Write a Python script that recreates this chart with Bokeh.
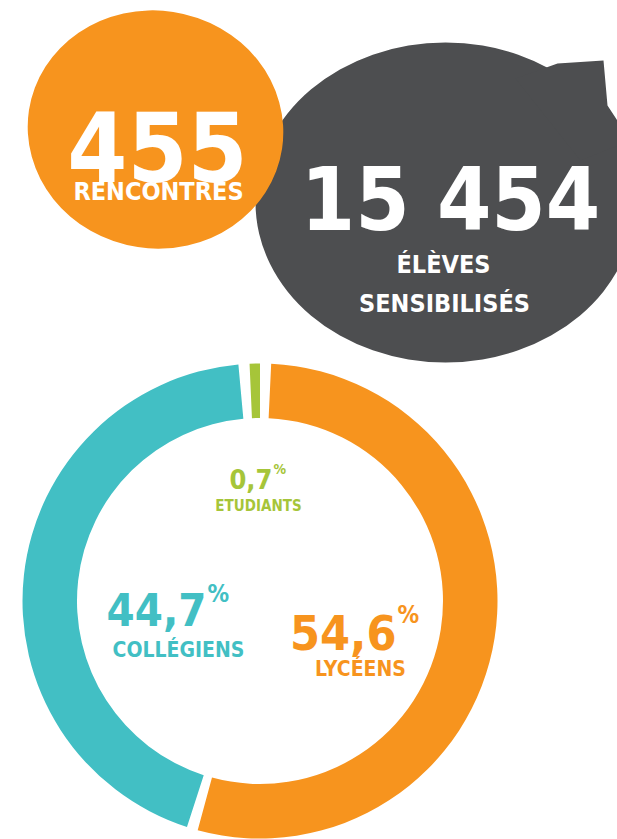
import math
from bokeh.plotting import figure
from bokeh.models import Range1d
from bokeh.core.properties import value
from bokeh.embed import file_html
from bokeh.resources import INLINE

# ---------------- data ----------------
rencontres = 455
eleves = 15454
rencontres_label = "RENCONTRES"
eleves_label = ["ÉLÈVES", "SENSIBILISÉS"]

categories = ["LYCÉENS", "COLLÉGIENS", "ETUDIANTS"]
shares = [54.6, 44.7, 0.7]
share_labels = ["54,6", "44,7", "0,7"]

# ---------------- styles ----------------
ORANGE = "#F7941E"
GREY = "#4D4E50"
TEAL = "#42BFC4"
GREEN = "#A6C539"
slice_colors = [ORANGE, TEAL, GREEN]
FONT = "DejaVu Sans Condensed"
CAP = 0.729  # cap height of the font, in em

W, H = 617, 839


def Y(y):
    return H - y


def fmt_int(n):
    return f"{n:,}".replace(",", " ")


p = figure(width=W, height=H, x_range=Range1d(0, W), y_range=Range1d(0, H),
           output_backend="svg", toolbar_location=None, min_border=0)
p.axis.visible = False
p.grid.visible = False
p.outline_line_color = None
p.background_fill_color = "white"
p.border_fill_color = "white"


def txt(x, y, s, size, color, align="center"):
    p.text(x=[x], y=[Y(y)], text=[s], text_font=value(FONT),
           text_font_size=f"{size}px", text_font_style="bold",
           text_color=color, text_align=align, text_baseline="alphabetic")


# ---------------- blobs ----------------
p.ellipse(x=[445], y=[Y(202)], width=380, height=320, fill_color=GREY, line_color=None)
p.patch(x=[515, 557, 603, 607, 630, 580], y=[Y(78), Y(63), Y(60), Y(105), Y(140), Y(160)],
        fill_color=GREY, line_color=None)
p.ellipse(x=[155], y=[Y(129)], width=256, height=238, angle=-0.15,
          fill_color=ORANGE, line_color=None)

txt(157, 146, str(rencontres), 96, "white")
txt(158, 191, rencontres_label, 25, "white")
txt(450, 199, fmt_int(eleves), 87, "white")
txt(443, 264, eleves_label[0], 25, "white")
txt(444, 303, eleves_label[1], 25, "white")

# ---------------- donut ----------------
cx, cy = 259.5, Y(600.5)
r_in, r_out = 183, 237.5
GAP = 2.7  # degrees of white space between slices
SMALL = 5.0  # slices below this share keep their full arc

total = sum(shares)
spans = [s / total * 360.0 for s in shares]
bounds = [0.0]
for sp in spans:
    bounds.append(bounds[-1] + sp)
n = len(shares)
starts, ends = [], []
for i in range(n):
    a, b = bounds[i], bounds[i + 1]
    prev_i, next_i = (i - 1) % n, (i + 1) % n
    if shares[i] >= SMALL:
        a += GAP if shares[prev_i] < SMALL else GAP / 2
        b -= GAP if shares[next_i] < SMALL else GAP / 2
    starts.append(math.radians(90 - a))
    ends.append(math.radians(90 - b))

p.annular_wedge(x=[cx] * n, y=[cy] * n, inner_radius=r_in, outer_radius=r_out,
                start_angle=starts, end_angle=ends, direction="clock",
                fill_color=slice_colors, line_color=None)


def share_label(x_right, baseline, num, size, pct_size, color):
    txt(x_right, baseline, num, size, color, align="right")
    top = baseline - CAP * size
    txt(x_right + 1, top + CAP * pct_size, "%", pct_size, color, align="left")


# labels inside the donut
share_label(396, 632, share_labels[0], 48, 24, ORANGE)
txt(360, 668, categories[0], 21, ORANGE)

share_label(206, 609, share_labels[1], 45, 24, TEAL)
txt(178, 649, categories[1], 21, TEAL)

share_label(272, 478, share_labels[2], 27, 14, GREEN)
txt(258, 505, categories[2], 15, GREEN)

open("out.html", "w").write(file_html(p, INLINE))
